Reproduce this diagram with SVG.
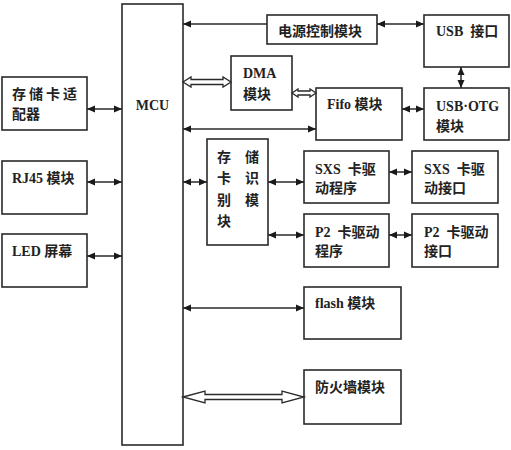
<svg xmlns="http://www.w3.org/2000/svg" width="511" height="450" viewBox="0 0 511 450">
<style>
.box{fill:#fff;stroke:#2a2a2a;stroke-width:1.6}
.t{font-family:"Liberation Serif","Noto Sans CJK SC",serif;font-weight:bold;font-size:14px;fill:#222;white-space:pre}
.ln{stroke:#2a2a2a;stroke-width:1.5;fill:none}
.hl{fill:#fff;stroke:#2a2a2a;stroke-width:1.3}
</style>
<defs>
<marker id="ah" viewBox="0 0 8 8" refX="8" refY="4" markerWidth="8" markerHeight="8" markerUnits="userSpaceOnUse" orient="auto-start-reverse">
<path d="M0,0.5 L8,4 L0,7.5 z" fill="#1a1a1a"/>
</marker>
</defs>
<rect width="511" height="450" fill="#fff"/>
<g id="mcu"><rect class="box" x="122" y="4" width="61" height="441"/><text class="t" x="152.5" y="110" text-anchor="middle">MCU</text></g>
<g id="card-adapter"><rect class="box" x="2" y="77" width="85" height="53"/><text class="t" x="12" y="99" letter-spacing="3">存储卡适</text><text class="t" x="12" y="119">配器</text></g>
<g id="rj45"><rect class="box" x="2" y="161" width="85" height="53"/><text class="t" x="12" y="183">RJ45 模块</text></g>
<g id="led"><rect class="box" x="2" y="234" width="85" height="53"/><text class="t" x="12" y="256">LED 屏幕</text></g>
<g id="power"><rect class="box" x="267" y="15" width="110" height="29"/><text class="t" x="278" y="36">电源控制模块</text></g>
<g id="usb"><rect class="box" x="424" y="15" width="85" height="52"/><text class="t" x="436" y="36">USB  接口</text></g>
<g id="dma"><rect class="box" x="231" y="56" width="61" height="54"/><text class="t" x="243" y="78">DMA</text><text class="t" x="243" y="99">模块</text></g>
<g id="fifo"><rect class="box" x="316" y="88" width="86" height="52"/><text class="t" x="327" y="109">Fifo 模块</text></g>
<g id="usbotg"><rect class="box" x="424" y="88" width="85" height="52"/><text class="t" x="436" y="111">USB·OTG</text><text class="t" x="436" y="131">模块</text></g>
<g id="card-id"><rect class="box" x="207" y="139" width="61" height="106"/>
<text class="t" x="217" y="162">存</text><text class="t" x="245" y="162">储</text>
<text class="t" x="217" y="183">卡</text><text class="t" x="245" y="183">识</text>
<text class="t" x="217" y="205">别</text><text class="t" x="245" y="205">模</text>
<text class="t" x="217" y="226">块</text></g>
<g id="sxs-drv"><rect class="box" x="304" y="151" width="85" height="52"/><text class="t" x="315" y="174">SXS  卡驱</text><text class="t" x="315" y="193">动程序</text></g>
<g id="sxs-if"><rect class="box" x="412" y="151" width="86" height="52"/><text class="t" x="424" y="174">SXS  卡驱</text><text class="t" x="424" y="193">动接口</text></g>
<g id="p2-drv"><rect class="box" x="304" y="214" width="85" height="53"/><text class="t" x="315" y="237">P2  卡驱动</text><text class="t" x="315" y="256">程序</text></g>
<g id="p2-if"><rect class="box" x="412" y="214" width="86" height="53"/><text class="t" x="424" y="237">P2  卡驱动</text><text class="t" x="424" y="256">接口</text></g>
<g id="flash"><rect class="box" x="304" y="287" width="97" height="52"/><text class="t" x="315" y="308">flash 模块</text></g>
<g id="firewall"><rect class="box" x="304" y="370" width="97" height="54"/><text class="t" x="315" y="392">防火墙模块</text></g>
<g id="connectors">
<line class="ln" x1="183" y1="24" x2="267" y2="24" marker-start="url(#ah)"/>
<line class="ln" x1="377" y1="24" x2="424" y2="24" marker-start="url(#ah)" marker-end="url(#ah)"/>
<line class="ln" x1="461" y1="67" x2="461" y2="88" marker-start="url(#ah)" marker-end="url(#ah)"/>
<line class="ln" x1="402" y1="109" x2="424" y2="109" marker-start="url(#ah)" marker-end="url(#ah)"/>
<line class="ln" x1="183" y1="129" x2="316" y2="129" marker-start="url(#ah)" marker-end="url(#ah)"/>
<line class="ln" x1="87" y1="109" x2="122" y2="109" marker-start="url(#ah)" marker-end="url(#ah)"/>
<line class="ln" x1="87" y1="182" x2="122" y2="182" marker-start="url(#ah)" marker-end="url(#ah)"/>
<line class="ln" x1="87" y1="256" x2="122" y2="256" marker-start="url(#ah)" marker-end="url(#ah)"/>
<line class="ln" x1="183" y1="182" x2="207" y2="182" marker-start="url(#ah)" marker-end="url(#ah)"/>
<line class="ln" x1="268" y1="182" x2="304" y2="182" marker-start="url(#ah)" marker-end="url(#ah)"/>
<line class="ln" x1="268" y1="235" x2="304" y2="235" marker-start="url(#ah)" marker-end="url(#ah)"/>
<line class="ln" x1="389" y1="172" x2="412" y2="172" marker-start="url(#ah)" marker-end="url(#ah)"/>
<line class="ln" x1="389" y1="235" x2="412" y2="235" marker-start="url(#ah)" marker-end="url(#ah)"/>
<line class="ln" x1="183" y1="308" x2="304" y2="308" marker-start="url(#ah)" marker-end="url(#ah)"/>
<polygon class="hl" points="183,82 191,77 191,79.5 223,79.5 223,77 231,82 223,87 223,84.5 191,84.5 191,87"/>
<polygon class="hl" points="292,93 298,89 298,91 310,91 310,89 316,93 310,97 310,95 298,95 298,97"/>
<polygon class="hl" points="183,397 205,391 205,394.5 282,394.5 282,391 304,397 282,403 282,399.5 205,399.5 205,403"/>
</g>
</svg>
